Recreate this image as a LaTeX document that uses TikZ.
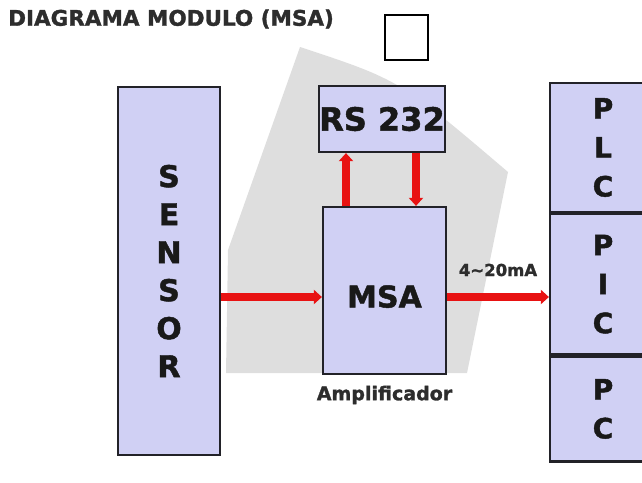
\documentclass[tikz,border=0pt]{standalone}
\usepackage{fontspec}
\setmainfont{DejaVu Sans}[BoldFeatures={FakeBold=1.5}]
\usepackage{tikz}
\usetikzlibrary{arrows.meta,positioning}
\definecolor{boxfill}{RGB}{208,208,244}
\definecolor{boxline}{RGB}{34,34,40}
\definecolor{arrred}{RGB}{232,18,18}
\definecolor{backgray}{RGB}{222,222,222}
\definecolor{txt}{RGB}{45,45,45}

\begin{document}
\begin{tikzpicture}[x=1pt, y=-1pt,
  blk/.style={draw=boxline, fill=boxfill, line width=2.2pt, inner sep=0pt, align=center, text=black!90, font=\bfseries\fontsize{30}{38}\selectfont},
  col/.style={blk, minimum width=106pt, font=\bfseries\fontsize{28}{39}\selectfont},
  lab/.style={font=\bfseries\fontsize{19}{22}\selectfont, text=txt, inner sep=2pt},
  arr/.style={-{Triangle[length=8pt,width=14pt]}, line width=7.5pt, draw=arrred}]
  \useasboundingbox (0,0) rectangle (642,482);
  \clip (0,0) rectangle (642,482);
  % ---------------- background
  \fill[backgray] (300,47) .. controls (400,80) .. (508,172) -- (467,373) -- (226,373) -- (228,250) -- cycle;
  % ---------------- title
  \node[lab, anchor=west, inner sep=0pt, font=\bfseries\fontsize{21.5}{24}\selectfont] (title) at (8,19) {DIAGRAMA MODULO (MSA)};
  \node[draw, line width=1.3pt, minimum width=43pt, minimum height=45pt] (blank) at (406.5,37.5) {};
  % ---------------- blocks
  \node[blk, minimum width=102pt, minimum height=368pt] (sensor) at (169,271) {S\\E\\N\\S\\O\\R};
  \node[blk, minimum width=126pt, minimum height=66pt, font=\bfseries\fontsize{32}{38}\selectfont] (rs) at (382,119) {RS 232};
  \node[blk, minimum width=123pt, minimum height=167pt, text height=34pt, text depth=0pt] (msa) at (384.5,290.5) {MSA};
  \node[lab, below=8.5pt of msa] (amp) {Amplificador};
  % ---------------- outputs
  \node[col, minimum height=129pt] (plc) at (603,147.5) {P\\L\\C};
  \node[col, minimum height=140pt, below=0pt of plc] (pic) {P\\I\\C};
  \node[col, minimum height=105pt, below=0pt of pic] (pc) {P\\C};
  % ---------------- links
  \coordinate (mid) at ([yshift=-6.5pt]msa.center);
  \coordinate (up) at ([xshift=-38.5pt]msa.north);
  \coordinate (dn) at ([xshift=31.5pt]msa.north);
  \draw[arr] (sensor.east |- mid) -- (msa.west |- mid);
  \draw[arr] (msa.east |- mid) -- node[lab, above=15pt, font=\bfseries\fontsize{16.5}{20}\selectfont] (ma) {4\textasciitilde20mA} (pic.west |- mid);
  \draw[arr] (up) -- (up |- rs.south);
  \draw[arr] (dn |- rs.south) -- (dn);
\end{tikzpicture}
\end{document}
